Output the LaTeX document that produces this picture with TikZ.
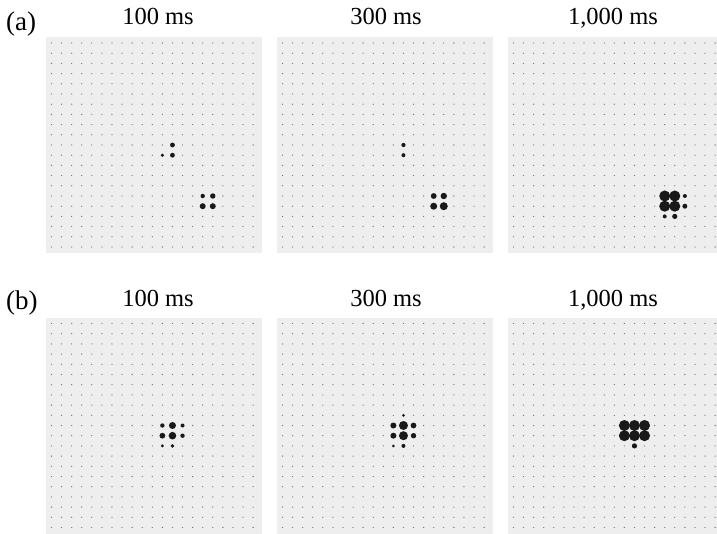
\documentclass[tikz,border=0pt]{standalone}
\usepackage{fontspec}
\setmainfont{Liberation Serif}
\usepackage{tikz}
\usetikzlibrary{positioning}
\definecolor{fondogris}{RGB}{238,238,238}
\definecolor{puntogris}{RGB}{115,115,115}
\definecolor{pulsonegro}{RGB}{25,25,25}

\begin{document}
\begin{tikzpicture}[x=1pt, y=-1pt,
      panel/.style={fill=fondogris},
      rejilla/.style={fill=puntogris},
      pulso/.style={fill=pulsonegro},
      titulo/.style={font=\fontsize{24.5}{29}\selectfont, inner sep=0pt, anchor=base},
      letra/.style={font=\fontsize{27}{32}\selectfont, inner sep=0pt, anchor=base west}]
    \useasboundingbox (0,0) rectangle (717,534);
    \foreach \px/\py in {46/37.5, 277/37.5, 508/37.5, 46/318, 277/318, 508/318} {
      \fill[panel] (\px,\py) rectangle ++(216,216);
      \foreach \i in {0,...,20}
        \foreach \j in {0,...,20}
          \fill[rejilla] ({\px+5.5+\i*10.08},{\py+5.5+\j*10.2}) circle (0.65);
    }
    % (a)
    \foreach \c/\r/\s in {12/10/2.4, 11/11/1.8, 12/11/2.4, 15/15/2.2, 16/15/2.7,
                          15/16/3.0, 16/16/3.0}
      \fill[pulso] ({46+5.5+\c*10.08},{37.5+5.5+\r*10.2}) circle (\s);
    \foreach \c/\r/\s in {12/10/2.1, 12/11/2.0, 15/15/2.9, 16/15/3.2,
                          15/16/3.5, 16/16/4.0}
      \fill[pulso] ({277+5.5+\c*10.08},{37.5+5.5+\r*10.2}) circle (\s);
    \foreach \c/\r/\s in {15/15/5.5, 16/15/5.5, 15/16/5.5, 16/16/5.5, 17/15/2.0,
                          17/16/2.5, 15/17/2.0, 16/17/2.6}
      \fill[pulso] ({508+5.5+\c*10.08},{37.5+5.5+\r*10.2}) circle (\s);
    % (b)
    \foreach \c/\r/\s in {11/10/2.2, 12/10/3.5, 13/10/2.0, 11/11/2.9, 12/11/3.8,
                          13/11/2.2, 11/12/1.7, 12/12/1.9}
      \fill[pulso] ({46+5.5+\c*10.08},{318+5.5+\r*10.2}) circle (\s);
    \foreach \c/\r/\s in {12/9/1.5, 11/10/3.0, 12/10/4.5, 13/10/2.9, 11/11/3.0,
                          12/11/4.5, 13/11/2.7, 11/12/1.5, 12/12/2.0}
      \fill[pulso] ({277+5.5+\c*10.08},{318+5.5+\r*10.2}) circle (\s);
    \foreach \c/\r/\s in {11/10/5.5, 12/10/5.5, 13/10/5.5, 11/11/5.5, 12/11/5.5,
                          13/11/5.5, 12/12/2.6}
      \fill[pulso] ({508+5.5+\c*10.08},{318+5.5+\r*10.2}) circle (\s);
    % titulos
    \node[letra] (la) at (6,31) {(a)};
    \node[titulo] (ta1) at (158,25) {100 ms};
    \node[titulo] (ta2) at (386,25) {300 ms};
    \node[titulo] (ta3) at (613,25) {1,000 ms};
    \node[letra] (lb) at (6,310) {(b)};
    \node[titulo] (tb1) at (158,307) {100 ms};
    \node[titulo] (tb2) at (386,307) {300 ms};
    \node[titulo] (tb3) at (613,307) {1,000 ms};
  \end{tikzpicture}
\end{document}
